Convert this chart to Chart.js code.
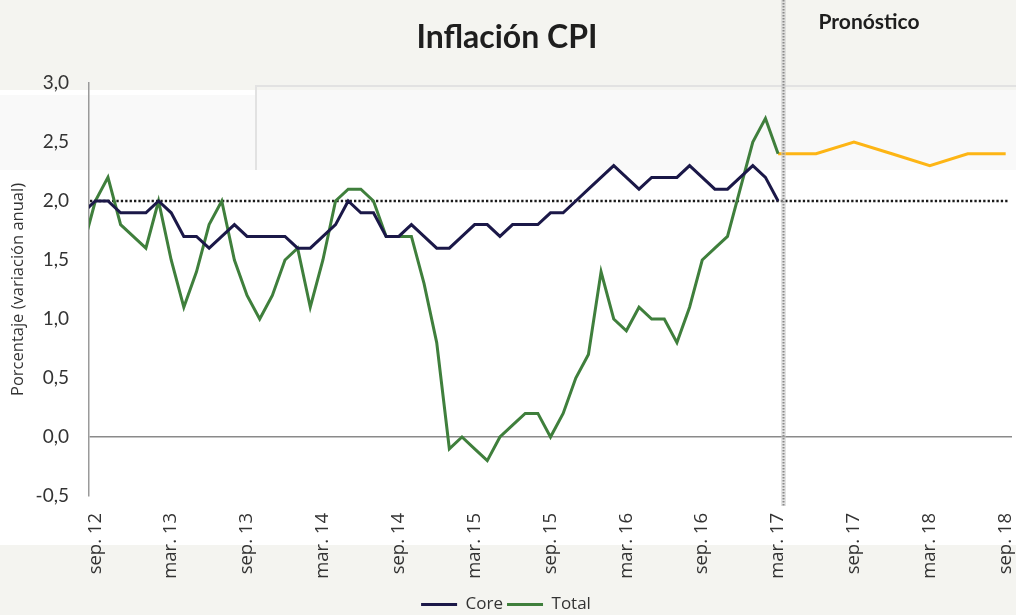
<!DOCTYPE html>
<html>
<head>
<meta charset="utf-8">
<script src="https://cdn.jsdelivr.net/npm/chart.js@4/dist/chart.umd.min.js"></script>
<style>
    html, body { margin: 0; padding: 0; background: #ffffff; }
    #wrap { width: 1016px; height: 615px; position: relative; }
</style>
</head>
<body>
<div id="wrap"><canvas id="chart" width="1016" height="615"></canvas></div>
<script>
// Tick labels on the x axis (every 6 months, sep. 12 -> sep. 18)
const tickLabels = ['sep. 12', 'mar. 13', 'sep. 13', 'mar. 14', 'sep. 14', 'mar. 15', 'sep. 15',
    'mar. 16', 'sep. 16', 'mar. 17', 'sep. 17', 'mar. 18', 'sep. 18'];

// Monthly values, ago. 12 -> mar. 17 (ago. 12 sits just left of the axis)
const coreValues = [1.9,
    2.0, 2.0, 1.9, 1.9, 1.9, 2.0, 1.9, 1.7, 1.7, 1.6,
    1.7, 1.8, 1.7, 1.7, 1.7, 1.7, 1.6, 1.6, 1.7, 1.8,
    2.0, 1.9, 1.9, 1.7, 1.7, 1.8, 1.7, 1.6, 1.6, 1.7,
    1.8, 1.8, 1.7, 1.8, 1.8, 1.8, 1.9, 1.9, 2.0, 2.1,
    2.2, 2.3, 2.2, 2.1, 2.2, 2.2, 2.2, 2.3, 2.2, 2.1,
    2.1, 2.2, 2.3, 2.2, 2.0];

const totalValues = [1.6,
    2.0, 2.2, 1.8, 1.7, 1.6, 2.0, 1.5, 1.1, 1.4, 1.8,
    2.0, 1.5, 1.2, 1.0, 1.2, 1.5, 1.6, 1.1, 1.5, 2.0,
    2.1, 2.1, 2.0, 1.7, 1.7, 1.7, 1.3, 0.8, -0.1, 0.0,
    -0.1, -0.2, 0.0, 0.1, 0.2, 0.2, 0.0, 0.2, 0.5, 0.7,
    1.4, 1.0, 0.9, 1.1, 1.0, 1.0, 0.8, 1.1, 1.5, 1.6,
    1.7, 2.1, 2.5, 2.7, 2.4];

// Quarterly forecast, mar. 17 -> sep. 18
const forecastValues = [2.4, 2.4, 2.5, 2.4, 2.3, 2.4, 2.4];

const FIRST_MONTH = -1;      // ago. 12 (sep. 12 = 0)
const FORECAST_START = 54;   // mar. 17
const FORECAST_STEP = 3;     // quarterly
const FORECAST_LINE = 54.35; // vertical marker
const TARGET = 2.0;

const COLORS = {
    core: '#1b1848',
    total: '#3f7f3c',
    forecast: '#fdb515',
    text: '#333333'
};

// Build {x, y} points from the arrays
const corePoints = coreValues.map((v, i) => ({ x: FIRST_MONTH + i, y: v }));
const totalPoints = totalValues.map((v, i) => ({ x: FIRST_MONTH + i, y: v }));
const forecastPoints = forecastValues.map((v, i) => ({ x: FORECAST_START + FORECAST_STEP * i, y: v }));

// Background panels, title, target line and forecast marker
const decorPlugin = {
    id: 'decor',
    beforeDraw(chart) {
        const ctx = chart.ctx;
        ctx.save();
        ctx.fillStyle = '#f4f4f0';
        ctx.fillRect(0, 0, chart.width, chart.height);
        ctx.fillStyle = '#ffffff';
        ctx.fillRect(0, 90, chart.width, 455);
        ctx.fillStyle = '#f9f9f9';
        ctx.fillRect(0, 95, 255, 75);
        ctx.fillRect(255, 90, chart.width - 255, 80);
        ctx.strokeStyle = '#e2e2e2';
        ctx.lineWidth = 2;
        ctx.beginPath();
        ctx.moveTo(256, 170);
        ctx.lineTo(256, 86);
        ctx.lineTo(chart.width, 86);
        ctx.stroke();

        ctx.fillStyle = '#1e1e1e';
        ctx.font = 'bold 32px Lato, "Open Sans", sans-serif';
        ctx.textAlign = 'center';
        ctx.textBaseline = 'middle';
        ctx.fillText('Inflación CPI', 507, 38);
        ctx.restore();
    },
    beforeDatasetsDraw(chart) {
        const { ctx, chartArea, scales } = chart;
        const y = scales.y.getPixelForValue(TARGET);
        ctx.save();
        ctx.strokeStyle = '#1a1a1a';
        ctx.lineWidth = 2.6;
        ctx.setLineDash([2.3, 2.1]);
        ctx.beginPath();
        ctx.moveTo(chartArea.left + 1, y);
        ctx.lineTo(chartArea.right - 4, y);
        ctx.stroke();
        ctx.restore();
    },
    afterDatasetsDraw(chart) {
        const { ctx, chartArea, scales } = chart;
        const x = Math.round(scales.x.getPixelForValue(FORECAST_LINE)) + 0.5;
        ctx.save();
        ctx.strokeStyle = 'rgba(200, 200, 200, 0.5)';
        ctx.lineWidth = 5;
        ctx.beginPath();
        ctx.moveTo(x, 0);
        ctx.lineTo(x, chartArea.bottom + 10);
        ctx.stroke();
        ctx.strokeStyle = '#8a8a8a';
        ctx.lineWidth = 2;
        ctx.setLineDash([1.5, 1.5]);
        ctx.beginPath();
        ctx.moveTo(x, 0);
        ctx.lineTo(x, chartArea.bottom + 10);
        ctx.stroke();
        ctx.setLineDash([]);

        ctx.fillStyle = '#1e1e1e';
        ctx.font = 'bold 21px Lato, "Open Sans", sans-serif';
        ctx.textAlign = 'left';
        ctx.textBaseline = 'middle';
        ctx.fillText('Pronóstico', x + 35, 22);
        ctx.restore();
    }
};

const ctx = document.getElementById('chart').getContext('2d');
new Chart(ctx, {
    type: 'line',
    data: {
        datasets: [{
            label: 'Core',
            data: corePoints,
            borderColor: COLORS.core,
            backgroundColor: COLORS.core,
            borderWidth: 3,
            pointRadius: 0,
            tension: 0,
            clip: 0
        }, {
            label: 'Total',
            data: totalPoints,
            borderColor: COLORS.total,
            backgroundColor: COLORS.total,
            borderWidth: 3,
            pointRadius: 0,
            tension: 0,
            clip: 0
        }, {
            label: 'Pronóstico',
            data: forecastPoints,
            borderColor: COLORS.forecast,
            backgroundColor: COLORS.forecast,
            borderWidth: 3,
            pointRadius: 0,
            tension: 0,
            clip: 0
        }]
    },
    options: {
        responsive: false,
        animation: false,
        layout: {
            padding: { top: 83, right: 4, left: 0, bottom: -8 }
        },
        plugins: {
            legend: {
                position: 'bottom',
                labels: {
                    filter: item => item.datasetIndex < 2,
                    usePointStyle: true,
                    pointStyle: 'line',
                    pointStyleWidth: 36,
                    color: COLORS.text,
                    font: { family: '"Open Sans", sans-serif', size: 17 },
                    padding: 4
                }
            },
            tooltip: { enabled: false }
        },
        scales: {
            x: {
                type: 'linear',
                min: -0.5,
                max: 72.5,
                afterBuildTicks: scale => {
                    scale.ticks = tickLabels.map((_, i) => ({ value: i * 6 }));
                },
                afterFit: scale => {
                    scale.height = 96;
                    scale.paddingLeft = 0;
                    scale.paddingRight = 0;
                },
                grid: { display: false },
                border: { display: false },
                ticks: {
                    minRotation: 90,
                    maxRotation: 90,
                    padding: 9,
                    color: COLORS.text,
                    font: { family: '"Open Sans", sans-serif', size: 18.5 },
                    callback: value => tickLabels[value / 6]
                }
            },
            y: {
                min: -0.5,
                max: 3,
                afterFit: scale => { scale.width = 89; },
                grid: {
                    drawTicks: false,
                    color: c => (c.tick && c.tick.value === 0 ? '#8a8a8a' : 'rgba(0,0,0,0)'),
                    lineWidth: 1.5
                },
                border: { display: true, color: '#9a9a9a', width: 1.5 },
                ticks: {
                    stepSize: 0.5,
                    padding: 20,
                    color: COLORS.text,
                    font: { family: 'Lato, "Open Sans", sans-serif', size: 19 },
                    callback: value => value.toFixed(1).replace('.', ',')
                },
                title: {
                    display: true,
                    text: 'Porcentaje (variación anual)',
                    color: COLORS.text,
                    font: { family: '"Open Sans", sans-serif', size: 16.5 },
                    padding: { top: 8, bottom: 4 }
                }
            }
        }
    },
    plugins: [decorPlugin]
});
</script>
</body>
</html>
